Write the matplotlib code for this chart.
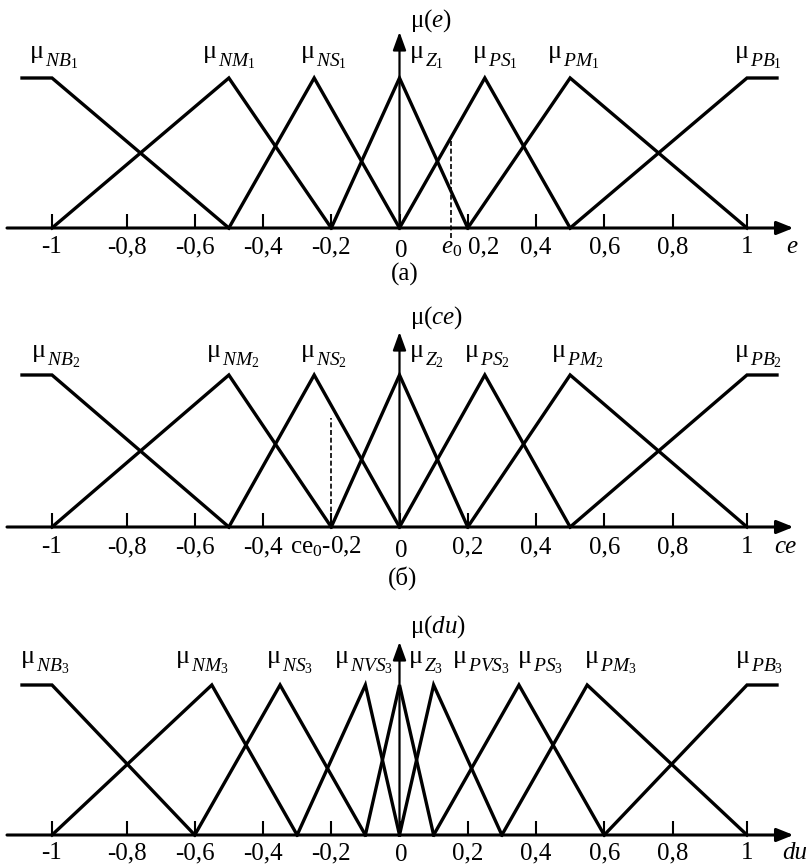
import numpy as np
import matplotlib
matplotlib.use('Agg')
import matplotlib.pyplot as plt

plt.rcParams['font.family'] = ['Liberation Serif', 'DejaVu Serif']
plt.rcParams['mathtext.fontset'] = 'custom'
plt.rcParams['mathtext.rm'] = 'Liberation Serif'
plt.rcParams['mathtext.it'] = 'Liberation Serif:italic'
plt.rcParams['mathtext.bf'] = 'Liberation Serif:bold'

# axis ticks (same on all three panels)
ticks = [-1, -0.8, -0.6, -0.4, -0.2, 0, 0.2, 0.4, 0.6, 0.8, 1]
tick_text = ['-1', '-0,8', '-0,6', '-0,4', '-0,2', '0', '0,2', '0,4', '0,6', '0,8', '1']

# (a) error e
e_names = ['NB', 'NM', 'NS', 'Z', 'PS', 'PM', 'PB']
e_x = [[-1.1, -1, -0.5], [-1, -0.5, -0.2], [-0.5, -0.25, 0], [-0.2, 0, 0.2],
       [0, 0.25, 0.5], [0.2, 0.5, 1], [0.5, 1, 1.1]]
e_y = [[1, 1, 0], [0, 1, 0], [0, 1, 0], [0, 1, 0], [0, 1, 0], [0, 1, 0], [0, 1, 1]]
e0 = 0.15
e0_mu = 0.6

# (б) change of error ce
ce_names = ['NB', 'NM', 'NS', 'Z', 'PS', 'PM', 'PB']
ce_x = [[-1.1, -1, -0.5], [-1, -0.5, -0.2], [-0.5, -0.25, 0], [-0.2, 0, 0.2],
        [0, 0.25, 0.5], [0.2, 0.5, 1], [0.5, 1, 1.1]]
ce_y = [[1, 1, 0], [0, 1, 0], [0, 1, 0], [0, 1, 0], [0, 1, 0], [0, 1, 0], [0, 1, 1]]
ce0 = -0.2
ce0_mu = 0.72

# output du
du_names = ['NB', 'NM', 'NS', 'NVS', 'Z', 'PVS', 'PS', 'PM', 'PB']
du_x = [[-1.1, -1, -0.6], [-1, -0.55, -0.3], [-0.6, -0.35, -0.1], [-0.3, -0.1, 0],
        [-0.1, 0, 0.1], [0, 0.1, 0.3], [0.1, 0.35, 0.6], [0.3, 0.55, 1], [0.6, 1, 1.1]]
du_y = [[1, 1, 0], [0, 1, 0], [0, 1, 0], [0, 1, 0], [0, 1, 0], [0, 1, 0], [0, 1, 0],
        [0, 1, 0], [0, 1, 1]]

# the drawing is slightly stretched near -1 and 1
kv = [-2, -1, -0.8, 0.8, 1, 2]
kp = [-248, 52, 126.5, 672.5, 747, 1047]


def fwd(v):
    return np.interp(v, kv, kp)


def inv(p):
    return np.interp(p, kp, kv)


FS = 18


def panel(ax, xs, ys, names, idx, ylim, lab_x, lab_y, mu_text, mu_y, arrow_top,
          axis_name, name_x, label_y, zero_drop):
    ax.set_xscale('function', functions=(fwd, inv))
    ax.set_xlim(inv(0), inv(810))
    ax.set_ylim(*ylim)
    ax.set_axis_off()

    for x, y in zip(xs, ys):
        ax.plot(x, y, color='black', lw=2.4, solid_joinstyle='miter')

    # x axis with arrow
    ax.annotate('', xy=(1.155, 0), xytext=(-1.15, 0),
                arrowprops=dict(arrowstyle='-|>,head_length=0.5,head_width=0.2',
                                lw=2.2, color='black', shrinkA=0, shrinkB=0,
                                mutation_scale=20))
    # mu axis with arrow
    ax.annotate('', xy=(0, arrow_top), xytext=(0, 0),
                arrowprops=dict(arrowstyle='-|>,head_length=0.55,head_width=0.2',
                                lw=1.6, color='black', shrinkA=0, shrinkB=0,
                                mutation_scale=20))
    ax.vlines(ticks, 0, 0.093, color='black', lw=1.5)

    for v, t in zip(ticks, tick_text):
        if v == 0:
            ax.text(0.004, label_y - zero_drop, t, ha='center', va='baseline', fontsize=FS)
        else:
            ax.text(v, label_y, t, ha='center', va='baseline', fontsize=FS)
    ax.text(name_x, label_y, axis_name, ha='center', va='baseline', fontsize=FS,
            fontstyle='italic')

    for n, lx in zip(names, lab_x):
        ax.text(lx, lab_y, 'μ', ha='left', va='baseline', fontsize=19)
        ax.annotate('$' + n + '_' + idx + '$', xy=(lx, lab_y), xytext=(11, -6),
                    textcoords='offset points', ha='left', va='baseline',
                    fontsize=14)
    ax.text(0.031, mu_y, mu_text, ha='left', va='center', fontsize=FS)


fig = plt.figure(figsize=(8.1, 8.65), dpi=100)
H = 865.0
ax1 = fig.add_axes([0, (H - 300) / H, 1, 300 / H])
ax2 = fig.add_axes([0, (H - 600) / H, 1, 300 / H])
ax3 = fig.add_axes([0, 0, 1, (H - 600) / H])

# top panel: the 0,2 label is moved right to make room for e0
tick_base = list(tick_text)

tick_text[6] = ''
panel(ax1, e_x, e_y, e_names, '1', (-0.48, 1.52),
      [-1.073, -0.576, -0.289, 0.031, 0.215, 0.435, 0.968], 1.133,
      'μ($e$)', 1.38, 1.307, 'e', 1.15, -0.167, 0.027)
ax1.text(0.248, -0.167, '0,2', ha='center', va='baseline', fontsize=FS)
ax1.text(e0 + 0.004, -0.167, '$e_0$', ha='center', va='baseline', fontsize=FS)
ax1.plot([e0, e0], [-0.067, e0_mu], color='black', lw=1.2, linestyle=(0, (3, 1.6)))
ax1.text(0.016, -0.307, '(а)', ha='center', va='center', fontsize=FS)

tick_text[:] = tick_base
tick_text[4] = ''
panel(ax2, ce_x, ce_y, ce_names, '2', (-0.4803, 1.4934),
      [-1.067, -0.564, -0.289, 0.031, 0.192, 0.447, 0.968], 1.118,
      'μ($ce$)', 1.375, 1.283, 'ce', 1.127, -0.171, 0.027)
ax2.text(-0.215, -0.171, 'ce$_0$-0,2', ha='center', va='baseline', fontsize=FS)
ax2.plot([ce0, ce0], [0, ce0_mu], color='black', lw=1.2, linestyle=(0, (3, 1.6)))
ax2.text(0.01, -0.336, '(б)', ha='center', va='center', fontsize=FS)

tick_text[:] = tick_base
panel(ax3, du_x, du_y, du_names, '3', (-0.2, 1.5667),
      [-1.103, -0.655, -0.388, -0.19, 0.028, 0.157, 0.347, 0.543, 0.971], 1.147,
      'μ($du$)', 1.387, 1.287, 'du', 1.16, -0.16, 0.012)

fig.savefig('out.png', dpi=100)
